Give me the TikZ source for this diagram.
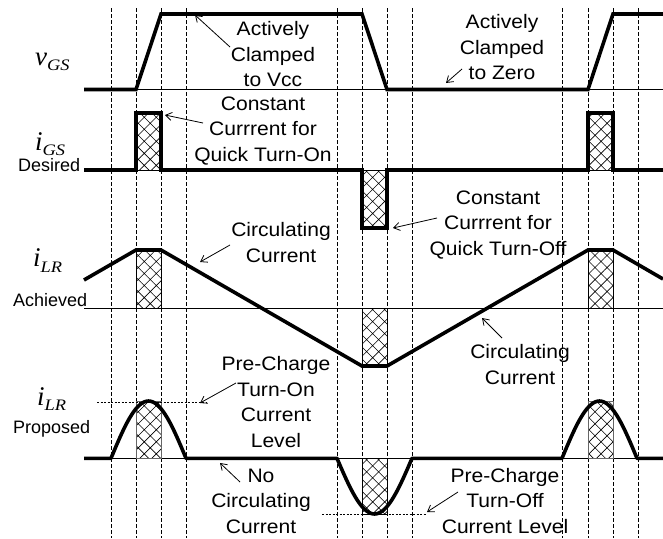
\documentclass[tikz,border=0pt]{standalone}
\usepackage{fontspec}
\setmainfont{Liberation Sans}
\newfontfamily\tms{Liberation Serif}
\newfontfamily\tmssub[FakeStretch=1.15]{Liberation Serif}
\newfontfamily\lblfont[FakeStretch=1.08]{Liberation Sans}
\usetikzlibrary{arrows.meta,patterns.meta}
\newcommand\wvlabel[2]{{\tms\itshape\fontsize{27}{27}\selectfont #1\raisebox{-5.5pt}{\tmssub\itshape\fontsize{16}{16}\selectfont #2}}}
\begin{document}
\begin{tikzpicture}[x=1pt,y=-1pt,
  wave/.style={line width=3.6pt,line join=miter,line cap=butt},
  thinline/.style={line width=0.7pt},
  gridline/.style={line width=0.5pt,dash pattern=on 3.5pt off 2.5pt},
  lvl/.style={line width=0.7pt,dash pattern=on 2pt off 1.5pt},
  hatchbox/.style={draw,line width=0.6pt,pattern={Hatch[angle=45,distance=8.5pt,line width=0.6pt]}},
  lbl/.style={font=\lblfont\fontsize{19.5}{25.5}\selectfont,align=center,inner sep=0pt},
  sm/.style={font=\fontsize{18}{18}\selectfont,inner sep=0pt,anchor=base west},
  sym/.style={inner sep=0pt,anchor=base west},
  note/.style={line width=0.8pt,-{Straight Barb[length=6pt,width=8pt]}}
]
\useasboundingbox (0,0) rectangle (663,538);
\fill[white] (0,0) rectangle (663,538);

% vertical dashed grid
\foreach \gx in {111,136,161,186,337,362,387,412,562,588,613,638}
  \draw[gridline] (\gx,8) -- (\gx,538);

% thin baselines
\draw[thinline] (84,89.5) -- (663,89.5);
\draw[thinline] (84,170) -- (663,170);
\draw[thinline] (84,308.3) -- (663,308.3);
\draw[thinline] (84,458.3) -- (663,458.3);

% hatched intervals
\path[hatchbox] (136,113) rectangle (161,170);
\path[hatchbox] (362,170) rectangle (387,228);
\path[hatchbox] (588,113) rectangle (613,170);
\path[hatchbox] (136,250) rectangle (161,308.3);
\path[hatchbox] (362,308.3) rectangle (387,366);
\path[hatchbox] (588,250) rectangle (613,308.3);
\path[hatchbox,draw=black!60] (136,401) rectangle (161,458.3);
\path[hatchbox] (362,458.3) rectangle (387,514);
\path[hatchbox,draw=black!60] (588,401) rectangle (613,458.3);

% level lines
\draw[lvl] (97,402.7) -- (207,402.7);
\draw[lvl] (322,514) -- (426,514);

% waveforms
\draw[wave] (84,89.5) -- (136,89.5) -- (161,14) -- (362,14) -- (387,89.5) -- (588,89.5) -- (613,14) -- (663,14);
\draw[wave] (84,170) -- (136,170) -- (136,113) -- (161,113) -- (161,170) -- (362,170) -- (362,228) -- (387,228) -- (387,170) -- (588,170) -- (588,113) -- (613,113) -- (613,170) -- (663,170);
\draw[wave] (84,280) -- (136,250) -- (161,250) -- (362,366) -- (387,366) -- (588,250) -- (613,250) -- (663,279);
\draw[wave,line join=round] (84,458.3) -- (111,458.3) sin (148.5,401) cos (186,458.3) -- (337,458.3) sin (374.5,514) cos (412,458.3) -- (562,458.3) sin (599.5,401) cos (637,458.3) -- (663,458.3);

% left labels
\node[sym] (vgs) at (35,65) {\wvlabel{v}{GS}};
\node[sym] (igs) at (35,150) {\wvlabel{i}{GS}};
\node[sm] (desired) at (18,171.7) {Desired};
\node[sym] (ilra) at (33,266.7) {\wvlabel{i}{LR}};
\node[sm] (achieved) at (13,306.7) {Achieved};
\node[sym] (ilrp) at (37,405) {\wvlabel{i}{LR}};
\node[sm] (proposed) at (13,433) {Proposed};

% annotation texts
\node[lbl] (clampvcc) at (273,54.5) {Actively\\Clamped\\to Vcc};
\node[lbl] (clampzero) at (502,47.5) {Actively\\Clamped\\to Zero};
\node[lbl] (ccon) at (263,131) {Constant\\Currrent for\\Quick Turn-On};
\node[lbl] (ccoff) at (498,225) {Constant\\Currrent for\\Quick Turn-Off};
\node[lbl] (circa) at (281,242.5) {Circulating\\Current};
\node[lbl] (circb) at (520,364.5) {Circulating\\Current};
\node[lbl] (preon) at (276,402) {Pre-Charge\\Turn-On\\Current\\Level};
\node[lbl] (nocirc) at (261,501) {No\\Circulating\\Current};
\node[lbl] (preoff) at (505,501) {Pre-Charge\\Turn-Off\\Current Level};

% annotation arrows
\coordinate (s1) at (230,47);  \coordinate (t1) at (195,15);
\coordinate (s2) at (462,69);  \coordinate (t2) at (446,83);
\coordinate (s3) at (203,123); \coordinate (t3) at (165,115);
\coordinate (s4) at (437,218); \coordinate (t4) at (393,228);
\coordinate (s5) at (230,245); \coordinate (t5) at (200,262);
\coordinate (s6) at (502,338); \coordinate (t6) at (482,318);
\coordinate (s7) at (236,383); \coordinate (t7) at (200,403);
\coordinate (s8) at (240,482); \coordinate (t8) at (220,463);
\coordinate (s9) at (458,492); \coordinate (t9) at (427,512);
\foreach \k in {1,...,9} \draw[note] (s\k) -- (t\k);
\end{tikzpicture}
\end{document}
